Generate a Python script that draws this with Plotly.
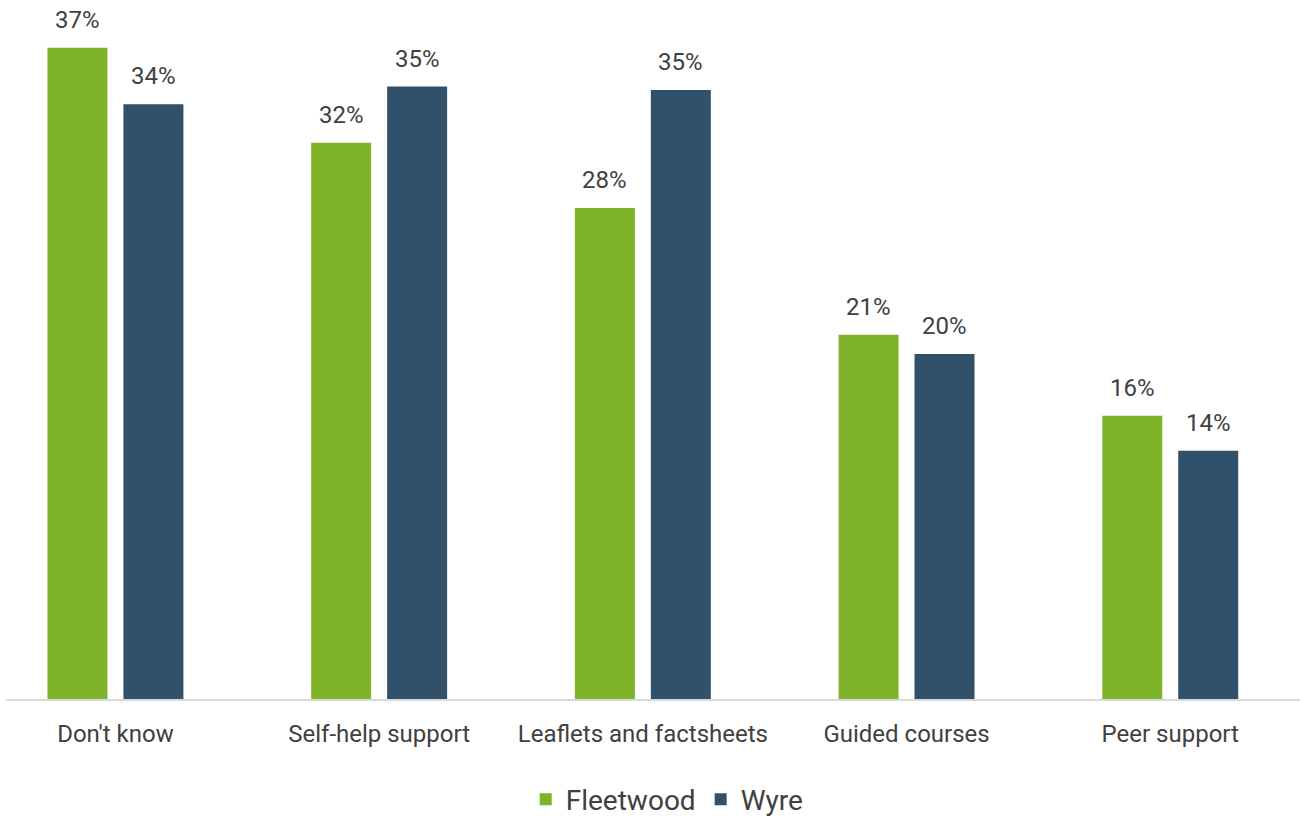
import plotly.graph_objects as go

# Survey responses by support type
categories = ["Don't know", "Self-help support", "Leaflets and factsheets",
              "Guided courses", "Peer support"]
fleetwood = [37.0, 31.6, 27.9, 20.7, 16.1]
wyre = [33.8, 34.8, 34.6, 19.6, 14.1]

GREEN = "#7fb42a"
NAVY = "#31516a"
TEXT = "#404040"

BARGAP = 0.424
GROUPGAP = 0.21
series = [("Fleetwood", fleetwood, GREEN), ("Wyre", wyre, NAVY)]

fig = go.Figure()
for name, vals, col in series:
    fig.add_trace(go.Bar(
        x=list(range(len(categories))), y=vals, name=name,
        marker=dict(color=col, line=dict(width=0)),
    ))

# value labels sit a little above each bar, centred on its slot in the group
slot = (1 - BARGAP) / len(series)
for k, (name, vals, col) in enumerate(series):
    off = (k - (len(series) - 1) / 2) * slot
    for i, v in enumerate(vals):
        fig.add_annotation(
            x=i + off, y=v, text=f"{v:.0f}%", showarrow=False,
            yanchor="bottom", yshift=12,
            font=dict(size=24, color=TEXT, family="Roboto"),
        )

fig.update_layout(
    width=1304, height=820,
    margin=dict(l=6, r=4, t=10, b=121, autoexpand=False),
    paper_bgcolor="white", plot_bgcolor="white",
    barmode="group", bargap=BARGAP, bargroupgap=GROUPGAP,
    font=dict(family="Roboto", color=TEXT),
    showlegend=True,
    legend=dict(orientation="h", x=0.511, xanchor="center",
                yref="container", y=0.025, yanchor="middle",
                font=dict(size=28, color=TEXT, family="Roboto"),
                itemwidth=30, tracegroupgap=0),
)
fig.update_xaxes(
    tickmode="array", tickvals=list(range(len(categories))), ticktext=categories,
    range=[-0.415, 4.492], showgrid=False, zeroline=False,
    showline=True, linecolor="#d9d9d9", linewidth=2,
    ticks="", tickfont=dict(size=24, color=TEXT), ticklabelstandoff=12,
)
fig.update_yaxes(range=[0, 39.15], visible=False, showgrid=False, zeroline=False)

fig.write_html("out.html")
